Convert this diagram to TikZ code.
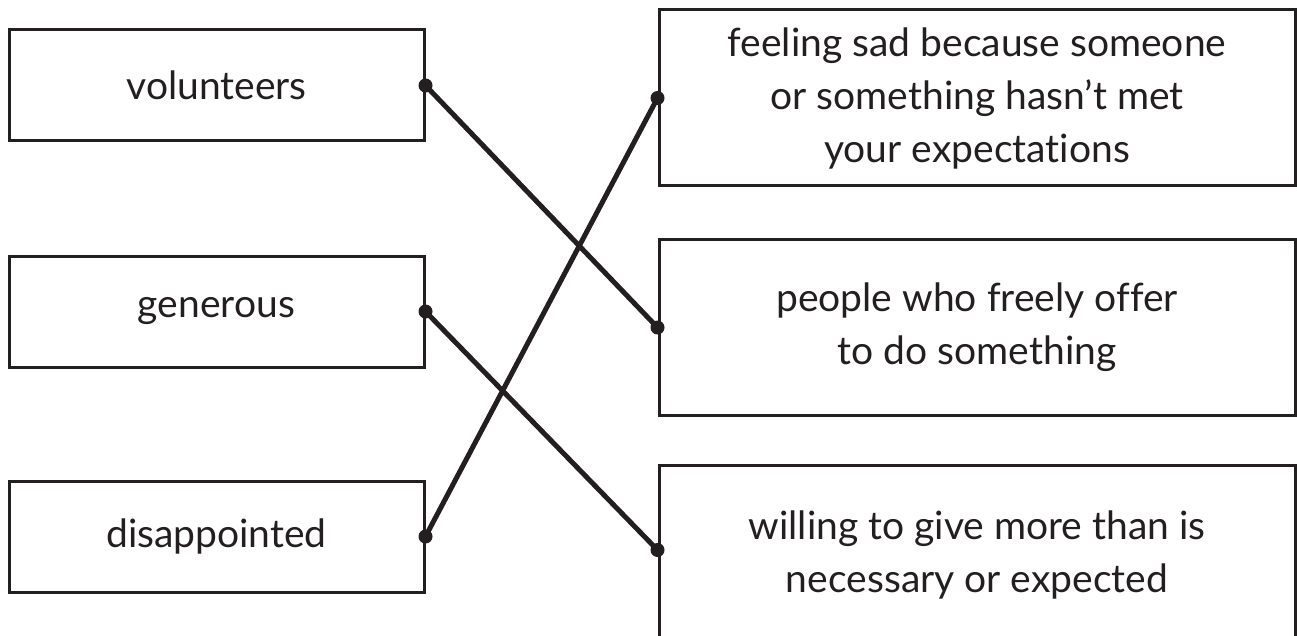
\documentclass[tikz,border=0pt]{standalone}
\usepackage{fontspec}
\setmainfont[Ligatures=NoCommon]{Lato}
\definecolor{ink}{HTML}{231F20}
\begin{document}
\begin{tikzpicture}[x=1pt,y=1pt,
  leftbox/.style={draw=ink,line width=3pt,minimum width=415pt,minimum height=111pt,inner sep=0pt,text=ink,font=\fontsize{39}{52}\selectfont},
  rightbox/.style={draw=ink,line width=3pt,minimum width=636pt,inner sep=0pt,text=ink,align=center,font=\fontsize{39}{53}\selectfont},
  link/.style={draw=ink,line width=5pt},
  dot/.style={circle,fill=ink,inner sep=0pt,minimum size=14pt}]
\useasboundingbox (0,0) rectangle (1297,-636);
\node[leftbox] (v) at (216.5,-85.5) {volunteers};
\node[leftbox] (g) at (216.5,-311.5) {generous};
\node[leftbox] (d) at (216.5,-536.5) {disappointed};
\node[rightbox,minimum height=176pt] (r1) at (977,-98) {feeling sad because someone\\or something hasn’t met\\your expectations};
\node[rightbox,minimum height=175pt] (r2) at (977,-327.5) {people who freely offer\\to do something};
\node[rightbox,minimum height=180pt] (r3) at (977,-555) {willing to give more than is\\necessary or expected};
\coordinate (r3w) at ([yshift=5pt]r3.west);
\draw[link] (v.east) -- (r2.west);
\draw[link] (g.east) -- (r3w);
\draw[link] (d.east) -- (r1.west);
\foreach \n in {v,g,d}{\node[dot] at (\n.east) {};}
\foreach \n in {r1,r2}{\node[dot] at (\n.west) {};}
\node[dot] at (r3w) {};
\end{tikzpicture}
\end{document}
